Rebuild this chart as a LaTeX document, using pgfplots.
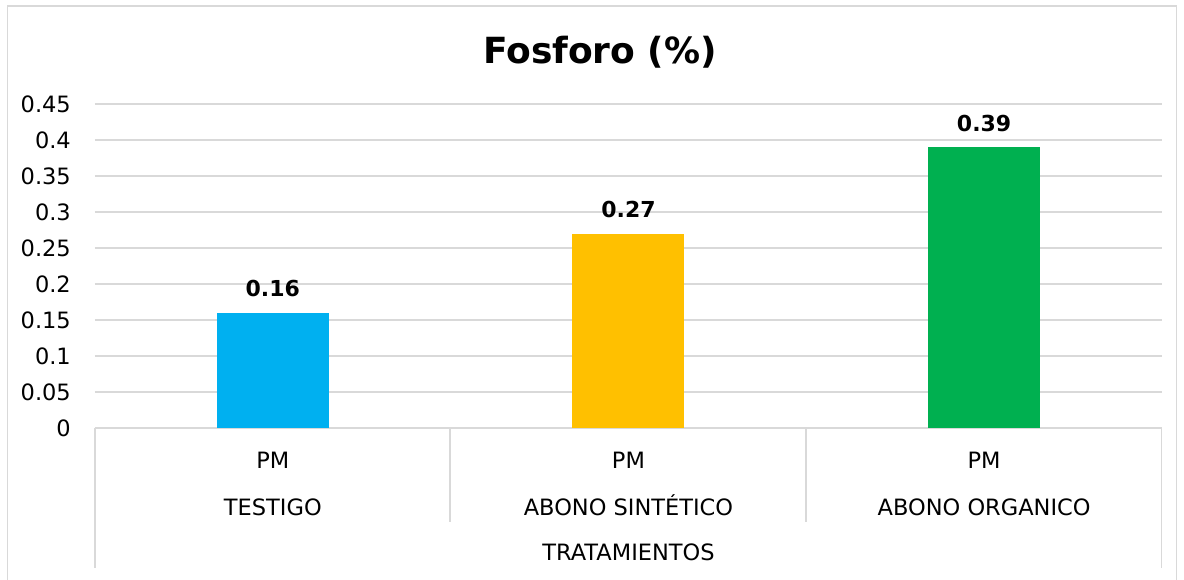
\documentclass[border=0pt]{standalone}
\usepackage{fontspec}
\setmainfont{DejaVu Sans}
\usepackage{pgfplots}
\pgfplotsset{compat=1.18}
\definecolor{gridc}{HTML}{D9D9D9}
\definecolor{c1}{HTML}{00B0F0}
\definecolor{c2}{HTML}{FFC000}
\definecolor{c3}{HTML}{00B050}
\begin{document}
\begin{tikzpicture}[x=1pt,y=1pt]
\useasboundingbox (0,0) rectangle (1184,579);
\draw[gridc, line width=1.5pt] (7.5,-10) rectangle (1176.5,573);
\begin{axis}[
  at={(95pt,151pt)}, anchor=south west,
  width=1067pt, height=324pt, scale only axis,
  xmin=-0.5, xmax=2.5, ymin=0, ymax=0.45,
  ytick={0,0.05,0.1,0.15,0.2,0.25,0.3,0.35,0.4,0.45},
  yticklabels={0,0.05,0.1,0.15,0.2,0.25,0.3,0.35,0.4,0.45},
  xtick={0,1,2},
  xticklabels={PM\\TESTIGO, PM\\ABONO SINTÉTICO, PM\\ABONO ORGANICO},
  ymajorgrids, grid style={gridc, line width=1.5pt},
  axis line style={draw=none}, major tick length=0pt,
  yticklabel style={font=\fontsize{22.5}{26}\selectfont, anchor=east, inner sep=0pt, xshift=-24pt},
  xticklabel style={font=\fontsize{22.5}{47}\selectfont, align=center, anchor=north, inner sep=0pt, yshift=-24pt},
  ybar, bar width=112pt, bar shift=0pt,
  point meta=explicit symbolic,
  nodes near coords,
  nodes near coords style={font=\bfseries\fontsize{22}{26}\selectfont, anchor=base, yshift=16pt, text=black},
]
\addplot[fill=c1, draw=none] coordinates {(0,0.16) [0.16]};
\addplot[fill=c2, draw=none] coordinates {(1,0.27) [0.27]};
\addplot[fill=c3, draw=none] coordinates {(2,0.39) [0.39]};
\end{axis}
\draw[gridc, line width=1.5pt] (95,151) -- (95,11);
\draw[gridc, line width=1.5pt] (1161.5,151) -- (1161.5,11);
\draw[gridc, line width=1.5pt] (450,151) -- (450,57);
\draw[gridc, line width=1.5pt] (806,151) -- (806,57);
\node[font=\fontsize{22.5}{26}\selectfont] at (628.5,27) {TRATAMIENTOS};
\node[font=\bfseries\fontsize{36}{42}\selectfont, anchor=base] at (600,515.7) {Fosforo (\%)};
\end{tikzpicture}
\end{document}
